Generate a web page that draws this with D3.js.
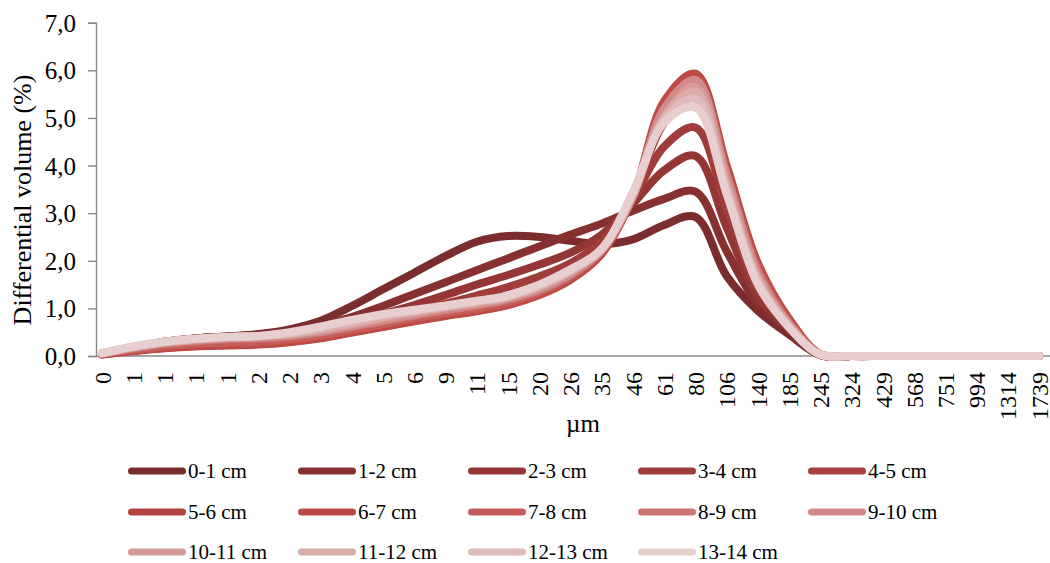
<!DOCTYPE html>
<html lang="en">
<head>
<meta charset="UTF-8">
<title>Differential volume</title>
<script src="https://cdnjs.cloudflare.com/ajax/libs/d3/7.8.2/d3.min.js"></script>
<style>
  body { margin: 0; background: #fff; }
  svg text { font-family: "Liberation Serif", "Times New Roman", serif; fill: #000; }
  .axis path, .axis line { stroke: #888; stroke-width: 1.4; }
</style>
</head>
<body>
<div id="chart"></div>
<script>
// size classes (µm) shown on the x axis
const sizeLabels = ["0","1","1","1","1","2","2","3","4","5","6","9","11","15","20","26","35","46","61","80","106","140","185","245","324","429","568","751","994","1314","1739"];

const depths = ["0-1 cm","1-2 cm","2-3 cm","3-4 cm","4-5 cm","5-6 cm","6-7 cm","7-8 cm","8-9 cm","9-10 cm","10-11 cm","11-12 cm","12-13 cm","13-14 cm"];

const colors = ["#7b2c2c","#873030","#933634","#a03c3a","#a9423e","#b4443f","#be4a45","#c65c58","#cc7673","#d18a88","#d69a98","#dbacaa","#e0bdbc","#e6cfce"];

// differential volume (%) for each depth, one value per size class
const v0_1   = [0.05,0.18,0.30,0.37,0.41,0.46,0.56,0.74,1.05,1.40,1.75,2.10,2.40,2.52,2.50,2.42,2.35,2.45,2.75,2.92,1.68,0.95,0.45,0.02,0,0,0,0,0,0,0];
const v1_2   = [0.05,0.18,0.30,0.37,0.41,0.44,0.50,0.62,0.82,1.05,1.30,1.55,1.80,2.05,2.30,2.55,2.78,3.05,3.30,3.45,2.20,1.10,0.55,0.02,0,0,0,0,0,0,0];
const v2_3   = [0.05,0.18,0.30,0.37,0.40,0.42,0.47,0.56,0.70,0.88,1.07,1.28,1.50,1.70,1.92,2.17,2.55,3.20,3.90,4.20,2.70,1.25,0.58,0.02,0,0,0,0,0,0,0];
const v3_4   = [0.05,0.18,0.30,0.36,0.40,0.42,0.46,0.54,0.66,0.80,0.95,1.10,1.27,1.45,1.67,1.95,2.40,3.30,4.40,4.80,3.10,1.40,0.62,0.02,0,0,0,0,0,0,0];
const v4_5   = [0.05,0.17,0.28,0.34,0.38,0.40,0.44,0.52,0.63,0.76,0.88,1.00,1.10,1.22,1.42,1.75,2.25,3.35,4.90,5.45,3.50,1.60,0.65,0.03,0,0,0,0,0,0,0];
const v5_6   = [0.03,0.11,0.17,0.21,0.23,0.25,0.30,0.38,0.50,0.62,0.74,0.85,0.95,1.08,1.30,1.62,2.15,3.35,5.20,5.85,3.90,1.85,0.75,0.04,0,0,0,0,0,0,0];
const v6_7   = [0.03,0.10,0.16,0.20,0.22,0.24,0.29,0.37,0.49,0.61,0.73,0.84,0.94,1.07,1.28,1.60,2.15,3.35,5.35,5.93,4.00,1.95,0.78,0.04,0,0,0,0,0,0,0];
const v7_8   = [0.04,0.13,0.20,0.25,0.28,0.30,0.35,0.43,0.55,0.67,0.79,0.90,1.00,1.12,1.34,1.66,2.20,3.35,5.20,5.75,3.85,1.85,0.72,0.03,0,0,0,0,0,0,0];
const v8_9   = [0.05,0.16,0.25,0.31,0.35,0.37,0.41,0.49,0.61,0.73,0.85,0.96,1.06,1.18,1.38,1.70,2.22,3.35,5.15,5.70,3.75,1.75,0.68,0.03,0,0,0,0,0,0,0];
const v9_10  = [0.05,0.17,0.27,0.33,0.37,0.39,0.43,0.51,0.63,0.75,0.87,0.98,1.08,1.20,1.40,1.72,2.22,3.35,5.20,5.80,3.80,1.75,0.68,0.03,0,0,0,0,0,0,0];
const v10_11 = [0.06,0.18,0.29,0.35,0.39,0.41,0.45,0.54,0.66,0.79,0.90,1.01,1.11,1.22,1.44,1.76,2.25,3.40,5.05,5.65,3.65,1.65,0.65,0.03,0,0,0,0,0,0,0];
const v11_12 = [0.06,0.19,0.29,0.35,0.40,0.42,0.46,0.56,0.68,0.82,0.93,1.03,1.13,1.24,1.46,1.78,2.25,3.40,5.00,5.55,3.55,1.60,0.62,0.03,0,0,0,0,0,0,0];
const v12_13 = [0.06,0.20,0.30,0.36,0.40,0.42,0.48,0.60,0.73,0.86,0.95,1.05,1.15,1.26,1.48,1.80,2.25,3.42,4.95,5.40,3.45,1.55,0.60,0.03,0,0,0,0,0,0,0];
const v13_14 = [0.06,0.20,0.30,0.36,0.40,0.42,0.50,0.62,0.76,0.88,0.97,1.06,1.16,1.27,1.50,1.82,2.25,3.45,4.90,5.22,3.40,1.50,0.60,0.03,0,0,0,0,0,0,0];

const series = [v0_1,v1_2,v2_3,v3_4,v4_5,v5_6,v6_7,v7_8,v8_9,v9_10,v10_11,v11_12,v12_13,v13_14];

const width = 1050, height = 563;
const plotLeft = 96, plotRight = 1050, plotTop = 22.7, plotBottom = 356;

const svg = d3.select("#chart").append("svg")
    .attr("width", width)
    .attr("height", height);

const x = d3.scalePoint()
    .domain(d3.range(sizeLabels.length))
    .range([102, 1039]);

const y = d3.scaleLinear()
    .domain([0, 7])
    .range([plotBottom, plotTop]);

// y axis
const yAxis = svg.append("g")
    .attr("class", "axis")
    .attr("transform", `translate(${plotLeft},0)`)
    .call(d3.axisLeft(y).ticks(7).tickSize(8).tickSizeOuter(8)
        .tickFormat(d => d3.format(".1f")(d).replace(".", ",")));
yAxis.selectAll("text")
    .attr("x", -20)
    .attr("dy", "0.34em")
    .style("font-size", "25px");

// x axis line + rotated labels
const xAxis = svg.append("g")
    .attr("class", "axis")
    .attr("transform", `translate(0,${plotBottom})`)
    .call(d3.axisBottom(x).tickSize(0).tickSizeOuter(0).tickFormat(i => sizeLabels[i]));
xAxis.select(".domain").attr("d", `M${plotLeft},0H${plotRight}`);
xAxis.selectAll("text")
    .attr("transform", "rotate(-90)")
    .attr("text-anchor", "end")
    .attr("x", -16)
    .attr("y", 0)
    .attr("dy", "0.34em")
    .style("font-size", "24px");

// axis titles
svg.append("text")
    .attr("x", 583)
    .attr("y", 432)
    .attr("text-anchor", "middle")
    .style("font-size", "25px")
    .text("µm");

svg.append("text")
    .attr("transform", "translate(31,200) rotate(-90)")
    .attr("text-anchor", "middle")
    .style("font-size", "26px")
    .text("Differential volume (%)");

// lines
const line = d3.line()
    .x((d, i) => x(i))
    .y(d => y(d))
    .curve(d3.curveCatmullRom.alpha(0.5));

svg.append("g")
    .selectAll("path")
    .data(series)
    .enter()
    .append("path")
    .attr("d", line)
    .attr("fill", "none")
    .attr("stroke", (d, i) => colors[i])
    .attr("stroke-width", 8)
    .attr("stroke-linecap", "round")
    .attr("stroke-linejoin", "round");

// legend: 5 per row
const legend = svg.append("g");
const item = legend.selectAll("g")
    .data(depths)
    .enter()
    .append("g")
    .attr("transform", (d, i) => `translate(${128 + (i % 5) * 170},${[471, 512, 552][Math.floor(i / 5)]})`);

item.append("line")
    .attr("x1", 3.5)
    .attr("x2", 54.5)
    .attr("stroke", (d, i) => colors[i])
    .attr("stroke-width", 7)
    .attr("stroke-linecap", "round");

item.append("text")
    .attr("x", 60)
    .attr("dy", "0.34em")
    .style("font-size", "21px")
    .text(d => d);
</script>
</body>
</html>
